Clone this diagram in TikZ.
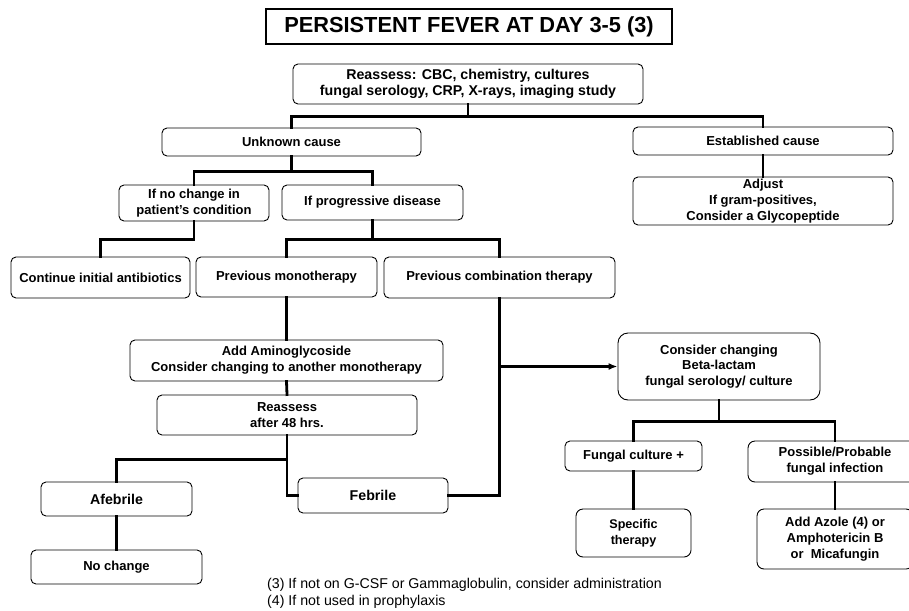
\documentclass[tikz,border=0pt]{standalone}
\usepackage{fontspec}
\setmainfont{Liberation Sans}
\usetikzlibrary{arrows.meta}
\begin{document}
\begin{tikzpicture}[x=1pt,y=-1pt,
  box/.style={draw=black, line width=0.9pt, rounded corners=5pt, inner sep=0pt, align=center,
    font=\fontsize{13}{15.7}\selectfont\bfseries},
  bigbox/.style={box, font=\fontsize{14.2}{16.7}\selectfont\bfseries},
  conn/.style={draw=black, line width=2.8pt, line cap=rect},
  note/.style={anchor=base west, inner sep=0pt, font=\fontsize{14.2}{16}\selectfont}]
\clip (0,0) rectangle (909,610);
\fill[white] (0,0) rectangle (909,610);
% boxes
\node[draw=black, line width=1.1pt, inner sep=0pt, minimum width=406pt, minimum height=35pt,
  font=\fontsize{21.8}{26}\selectfont\bfseries] (title) at (469,26.5) {PERSISTENT FEVER AT DAY 3-5 (3)};
\node[bigbox, minimum width=350pt, minimum height=40pt] (reass) at (468,84) {Reassess: CBC, chemistry, cultures\\fungal serology, CRP, X-rays, imaging study};
\node[box, minimum width=259pt, minimum height=28pt] (unk) at (291.5,142) {Unknown cause};
\node[box, minimum width=260pt, minimum height=28pt] (est) at (763,141) {Established cause};
\node[box, minimum width=260pt, minimum height=48pt] (adj) at (763,201) {Adjust\\If gram-positives,\\Consider a Glycopeptide};
\node[box, minimum width=150pt, minimum height=36pt] (nochg) at (194,203) {If no change in\\patient's condition};
\node[box, minimum width=181pt, minimum height=35pt] (prog) at (372.5,202.5) {If progressive disease};
\node[box, minimum width=179pt, minimum height=41pt] (cont) at (100.5,277.5) {Continue initial antibiotics};
\node[box, minimum width=181pt, minimum height=40pt] (mono) at (286.5,277) {Previous monotherapy};
\node[box, minimum width=231pt, minimum height=41pt] (comb) at (499.5,277.5) {Previous combination therapy};
\node[box, minimum width=313pt, minimum height=41pt] (amino) at (286.5,360.5) {Add Aminoglycoside\\Consider changing to another monotherapy};
\node[box, minimum width=260pt, minimum height=40pt] (reass48) at (287,415) {Reassess\\after 48 hrs.};
\node[bigbox, minimum width=151pt, minimum height=34pt] (afeb) at (116.5,499) {Afebrile};
\node[bigbox, minimum width=150pt, minimum height=35pt] (feb) at (373,495.5) {Febrile};
\node[box, minimum width=171pt, minimum height=34pt] (nochange) at (116.5,567) {No change};
\node[box, rounded corners=10pt, minimum width=202pt, minimum height=67pt] (consider) at (719,366.5) {Consider changing\\Beta-lactam\\fungal serology/ culture};
\node[box, minimum width=137pt, minimum height=30pt] (fungal) at (633.5,456) {Fungal culture +};
\node[box, rounded corners=7pt, minimum width=174pt, minimum height=41pt] (possible) at (835,461.5) {Possible/Probable\\fungal infection};
\node[box, rounded corners=7pt, minimum width=115pt, minimum height=48pt, font=\fontsize{12.6}{15.7}\selectfont\bfseries] (specific) at (633.5,533) {Specific\\therapy};
\node[box, rounded corners=7pt, minimum width=156pt, minimum height=60pt] (azole) at (835,539) {Add Azole (4) or\\Amphotericin B\\or\ \ Micafungin};
% connectors
\draw[conn] (reass.south) -- ++(0,12) -| (unk.north);
\draw[conn] (reass.south) -- ++(0,12) -| (est.north);
\draw[conn] (est.south) -- (adj.north);
\draw[conn] (unk.south) -- ++(0,15) -| (nochg.north);
\draw[conn] (unk.south) -- ++(0,15) -| (prog.north);
\draw[conn] (nochg.south) -- ++(0,18) -| (cont.north);
\draw[conn] (prog.south) -- ++(0,19) -| (mono.north);
\draw[conn] (prog.south) -- ++(0,19) -| (comb.north);
\draw[conn] (mono.south) -- (amino.north);
\draw[conn] (amino.south) -- (reass48.north);
\draw[conn] (reass48.south) -- ++(0,24) -| (afeb.north);
\draw[conn] (reass48.south) |- (feb.west);
\draw[conn] (afeb.south) -- (nochange.north);
\draw[conn] (feb.east) -| (comb.south);
\coordinate (j) at (comb.south |- consider.west);
\draw[line width=2.8pt, -{Latex[length=9pt,width=7pt]}] (j) -- (consider.west);
\draw[conn] (consider.south) -- ++(0,21) -| (fungal.north);
\draw[conn] (consider.south) -- ++(0,21) -| (possible.north);
\draw[conn] (fungal.south) -- (specific.north);
\draw[conn] (possible.south) -- (azole.north);
% footnotes
\node[note] (n3) at (267,588) {(3) If not on G-CSF or Gammaglobulin, consider administration};
\node[note] (n4) at (267,605) {(4) If not used in prophylaxis};
\end{tikzpicture}
\end{document}
